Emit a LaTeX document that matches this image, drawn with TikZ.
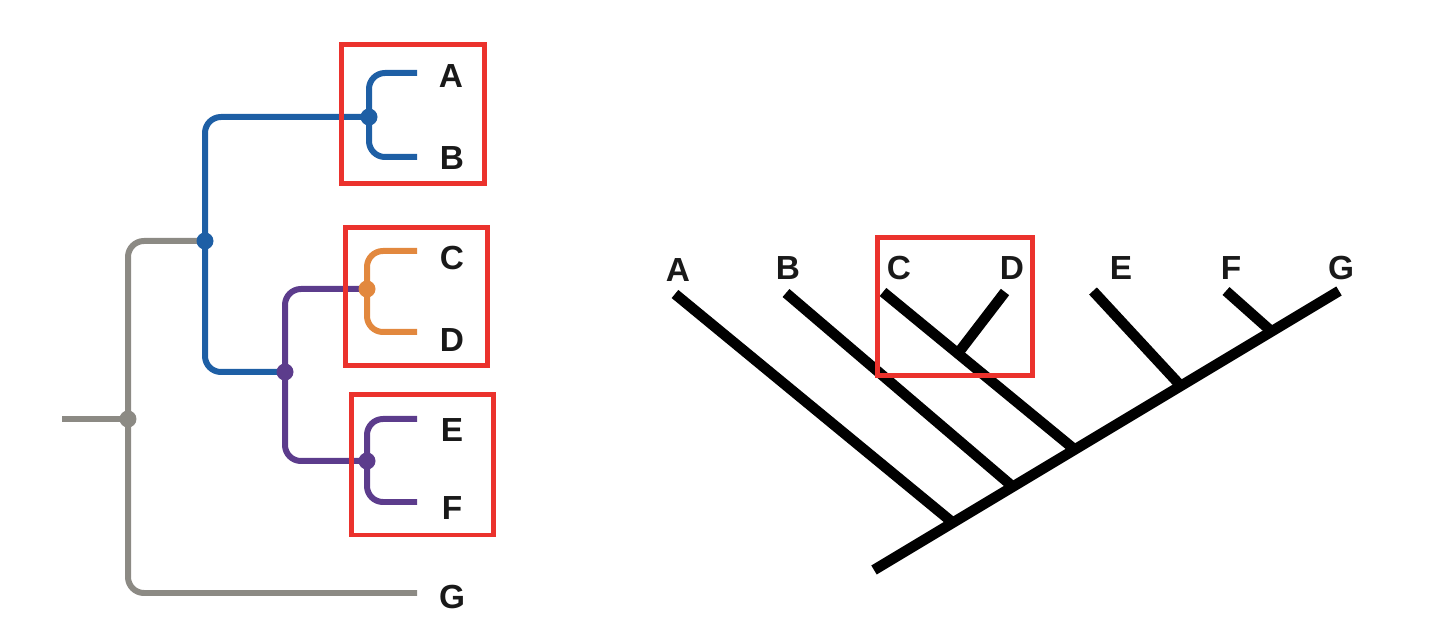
\documentclass[tikz,border=0pt]{standalone}
\usepackage{fontspec}
\setmainfont{Liberation Sans}
\definecolor{brblue}{RGB}{30,95,165}
\definecolor{brgray}{RGB}{140,138,132}
\definecolor{brpurple}{RGB}{92,60,140}
\definecolor{brorange}{RGB}{226,136,62}
\definecolor{boxred}{RGB}{235,50,45}
\begin{document}
\begin{tikzpicture}[x=0.02cm, y=-0.02cm,
    branch/.style={line width=0.12cm, rounded corners=0.32cm},
    stick/.style={line width=0.21cm, black},
    frame/.style={draw=boxred, line width=0.1cm},
    taxon/.style={font=\fontsize{19}{22}\selectfont\bfseries, text=black!90, inner sep=0pt}]

    \useasboundingbox (0,0) rectangle (1440,624);

    %% Bracket tree

    \begin{scope}
        % Nodes of the tree
        \coordinate (stem) at (62,419);
        \coordinate (nRoot) at (128,419);
        \coordinate (nAF) at (205,241);
        \coordinate (nAB) at (369,117);
        \coordinate (nCF) at (285,372);
        \coordinate (nCD) at (367,289);
        \coordinate (nEF) at (367,461);

        % Tips
        \coordinate (tA) at (417,73);
        \coordinate (tB) at (417,157);
        \coordinate (tC) at (417,251);
        \coordinate (tD) at (417,332);
        \coordinate (tE) at (417,419);
        \coordinate (tF) at (417,502);
        \coordinate (tG) at (417,593);

        % Gray lineage
        \draw[branch, brgray] (stem) -- (nRoot);
        \draw[branch, brgray] (nAF) -- (nRoot |- nAF) -- (nRoot |- tG) -- (tG);

        % Blue lineage
        \draw[branch, brblue] (nAB) -- (nAF |- nAB) -- (nAF |- nCF) -- (nCF);
        \draw[branch, brblue] (tA) -- (nAB |- tA) -- (nAB |- tB) -- (tB);

        % Purple lineage
        \draw[branch, brpurple] (nCD) -- (nCF |- nCD) -- (nCF |- nEF) -- (nEF);
        \draw[branch, brpurple] (tE) -- (nEF |- tE) -- (nEF |- tF) -- (tF);

        % Orange lineage
        \draw[branch, brorange] (tC) -- (nCD |- tC) -- (nCD |- tD) -- (tD);

        % Dots
        \fill[brgray] (nRoot) circle (0.17cm);
        \fill[brblue] (nAF) circle (0.17cm);
        \fill[brblue] (nAB) circle (0.17cm);
        \fill[brpurple] (nCF) circle (0.17cm);
        \fill[brorange] (nCD) circle (0.17cm);
        \fill[brpurple] (nEF) circle (0.17cm);

        % Labels
        \node[taxon] (lA) at (451,76) {A};
        \node[taxon] (lB) at (452,158) {B};
        \node[taxon] (lC) at (452,258) {C};
        \node[taxon] (lD) at (452,340) {D};
        \node[taxon] (lE) at (452,430) {E};
        \node[taxon] (lF) at (452,508) {F};
        \node[taxon] (lG) at (452,597) {G};

        % Clades
        \draw[frame] (341,45) rectangle (484,184);
        \draw[frame] (345,228) rectangle (487,366);
        \draw[frame] (351,395) rectangle (493,535);
    \end{scope}

    %% Slanted tree

    \begin{scope}
        % Spine
        \coordinate (base) at (874,570);
        \coordinate (sG) at (1339,291);
        \draw[stick] (base) -- (sG);

        % Junctions
        \coordinate (jA) at (952,522);
        \coordinate (jB) at (1012,486);
        \coordinate (jC) at (1074,449);
        \coordinate (jE) at (1180,385);
        \coordinate (jF) at (1271,331);
        \coordinate (jD) at (959,352);

        % Branches
        \draw[stick] (675,294) coordinate (sA) -- (jA);
        \draw[stick] (786,293) coordinate (sB) -- (jB);
        \draw[stick] (883,292) coordinate (sC) -- (jC);
        \draw[stick] (1005,292) coordinate (sD) -- (jD);
        \draw[stick] (1093,291) coordinate (sE) -- (jE);
        \draw[stick] (1226,291) coordinate (sF) -- (jF);

        % Labels
        \node[taxon] (rA) at (678,270) {A};
        \node[taxon] (rB) at (788,268) {B};
        \node[taxon] (rC) at (899,268) {C};
        \node[taxon] (rD) at (1012,268) {D};
        \node[taxon] (rE) at (1121,268) {E};
        \node[taxon] (rF) at (1231,268) {F};
        \node[taxon] (rG) at (1341,268) {G};

        % Clade
        \draw[frame] (877,238) rectangle (1032,376);
    \end{scope}

\end{tikzpicture}
\end{document}
